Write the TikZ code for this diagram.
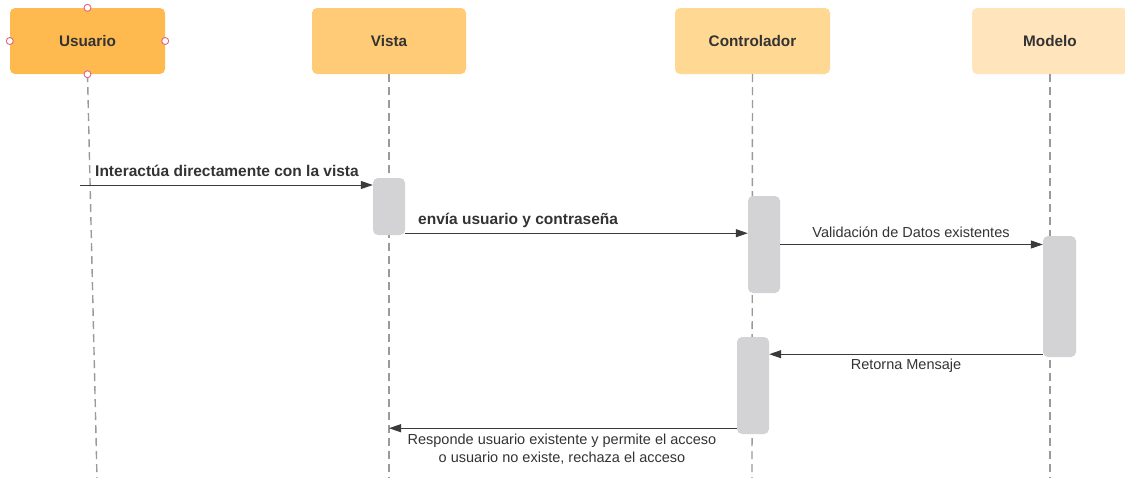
\documentclass[tikz,border=0pt]{standalone}
\usepackage{fontspec}
\setmainfont{Liberation Sans}
\usetikzlibrary{arrows.meta}
\definecolor{cU}{HTML}{FFBA4F}
\definecolor{cV}{HTML}{FFCB77}
\definecolor{cC}{HTML}{FFD893}
\definecolor{cM}{HTML}{FFE4BC}
\definecolor{txt}{HTML}{333333}
\definecolor{actgray}{HTML}{D3D3D6}
\definecolor{lifegray}{HTML}{9A9A9A}
\definecolor{linegray}{HTML}{3A3A3A}
\definecolor{handle}{HTML}{E0657D}
\tikzset{
  head/.style={rounded corners=5pt, draw=none, inner sep=0pt, minimum height=66pt,
    text=txt, font=\bfseries\fontsize{15.3}{18}\selectfont},
  act/.style={rounded corners=5pt, fill=actgray, draw=none, inner sep=0pt, minimum width=32pt},
  life/.style={draw=lifegray, line width=1.4pt, dash pattern=on 8pt off 5pt},
  msg/.style={draw=linegray, line width=1pt, -{Triangle[length=12pt,width=8pt]}},
  boldlbl/.style={text=txt, inner sep=0pt, font=\bfseries\fontsize{15.5}{18}\selectfont},
  reglbl/.style={text=txt, inner sep=0pt, font=\fontsize{14.5}{18}\selectfont},
  hdl/.style={circle, draw=handle, fill=white, line width=0.9pt, inner sep=0pt, minimum size=7pt}
}
\begin{document}
\begin{tikzpicture}[x=1pt,y=-1pt]
\useasboundingbox (0,0) rectangle (1125,477);
% headers
\node[head, fill=cU, minimum width=155pt] (u) at (87.5,41) {Usuario};
\node[head, fill=cV, minimum width=154pt] (v) at (389,41) {Vista};
\node[head, fill=cC, minimum width=155pt] (c) at (752.5,41) {Controlador};
\node[head, fill=cM, minimum width=156pt] (m) at (1050,41) {Modelo};
% lifeline ends
\coordinate (ue) at (97,478);
\coordinate (ve) at (389,478);
\coordinate (ce) at (752,478);
\coordinate (me) at (1050,478);
\draw[life] (u.south) -- (ue);
\draw[life] (v.south) -- (ve);
\draw[life] (c.south) -- (ce);
\draw[life] (m.south) -- (me);
% activations
\node[act, minimum height=57pt] (va) at (389,206.5) {};
\node[act, minimum height=97pt] (c1) at (764,244.5) {};
\node[act, minimum height=121pt, minimum width=33pt] (ma) at (1059.5,296.5) {};
\node[act, minimum height=97pt] (c2) at (753,385.5) {};
% messages
\coordinate (s1) at (80,185);
\draw[msg] (s1) -- (s1 -| va.west);
\draw[msg] ([yshift=2pt]va.south east) coordinate (a2) -- (a2 -| c1.west);
\draw[msg] (c1.east) -- (c1.east -| ma.west);
\draw[msg] ([yshift=3pt]ma.south west) coordinate (a4) -- (a4 -| c2.east);
\draw[msg] ([yshift=6pt]c2.south west) coordinate (a5) -- (a5 -| v.south);
% labels
\node[boldlbl, anchor=base west] (l1) at (95,176) {Interactúa directamente con la vista};
\node[boldlbl, anchor=base west] (l2) at (418,224) {envía usuario y contraseña};
\node[reglbl, anchor=base] (l3) at (911,237) {Validación de Datos existentes};
\node[reglbl, anchor=base] (l4) at (906,369) {Retorna Mensaje};
\node[reglbl, anchor=base] (l5) at (562,444) {Responde usuario existente y permite el acceso};
\node[reglbl, anchor=base] (l6) at (562,462) {o usuario no existe, rechaza el acceso};
% selection handles
\node[hdl] (h1) at (u.north) {};
\node[hdl] (h2) at (u.west) {};
\node[hdl] (h3) at (u.east) {};
\node[hdl] (h4) at (u.south) {};
\end{tikzpicture}
\end{document}
